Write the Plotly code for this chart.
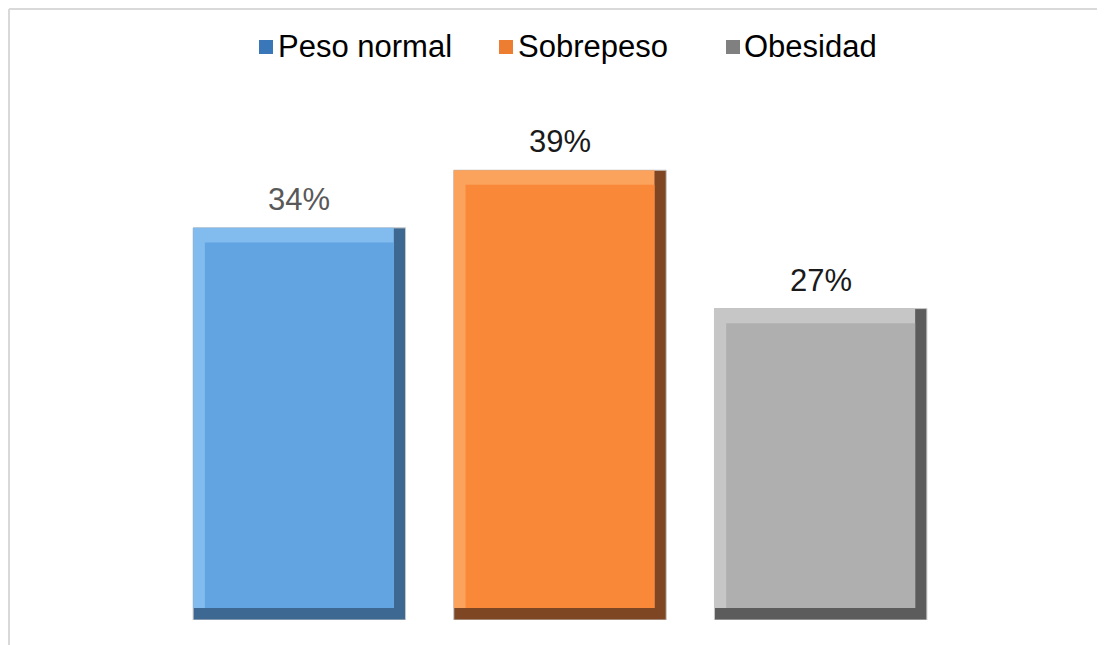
import plotly.graph_objects as go

categories = ["Peso normal", "Sobrepeso", "Obesidad"]
values = [0.34, 0.39, 0.27]
label_colors = ["#595959", "#1a1a1a", "#1a1a1a"]

face_colors = ["#62a4e1", "#f98839", "#afafaf"]
light_colors = ["#82bbee", "#fba25c", "#c6c6c6"]
dark_colors = ["#3d6891", "#7e4622", "#5c5c5c"]
legend_colors = ["#3a77b8", "#ed7d31", "#808080"]

BAR_W = 0.815      # bar width in category units
BEV_X = 0.045      # bevel width, category units
BEV_Y = 0.0105     # bevel height, value units
FONT = "Liberation Sans, Arial, sans-serif"

W, H = 1097, 637
ML, MR, MT, MB = 161, 154, 93, 25
PW, PH = W - ML - MR, H - MT - MB


def px(x):  # figure pixel -> paper x
    return (x - ML) / PW


def py(y):  # figure pixel -> paper y
    return (H - MB - y) / PH


fig = go.Figure()

for i, (cat, val) in enumerate(zip(categories, values)):
    # dark shell (right and bottom edges)
    fig.add_trace(go.Bar(
        x=[cat], y=[val], width=[BAR_W], offset=[-BAR_W / 2],
        marker=dict(color=dark_colors[i], line=dict(color="#c8c8c8", width=1)),
        showlegend=False, hoverinfo="skip",
    ))
    # light edge (top and left)
    fig.add_trace(go.Bar(
        x=[cat], y=[val - BEV_Y], base=[BEV_Y],
        width=[BAR_W - BEV_X], offset=[-BAR_W / 2],
        marker=dict(color=light_colors[i], line=dict(width=0)),
        showlegend=False, hoverinfo="skip",
    ))
    # face
    fig.add_trace(go.Bar(
        x=[cat], y=[val - 2.2 * BEV_Y], base=[BEV_Y],
        width=[BAR_W - 2 * BEV_X], offset=[-BAR_W / 2 + BEV_X],
        marker=dict(color=face_colors[i], line=dict(width=0)),
        showlegend=False, hoverinfo="skip",
    ))

for cat, val, col in zip(categories, values, label_colors):
    fig.add_annotation(
        x=cat, y=val, text=f"{val:.0%}", showarrow=False,
        yanchor="bottom", yshift=9,
        font=dict(family=FONT, size=31, color=col),
    )

# legend drawn by hand (square + label), Excel-like spacing
legend_sym_x = [251, 491, 718]
legend_txt_x = [268, 508, 734]
for sx, tx, cat, col in zip(legend_sym_x, legend_txt_x, categories, legend_colors):
    fig.add_shape(type="rect", xref="paper", yref="paper",
                  x0=px(sx), x1=px(sx + 14), y0=py(46), y1=py(32),
                  fillcolor=col, line=dict(width=0))
    fig.add_annotation(
        xref="paper", yref="paper", x=px(tx), y=py(39),
        xanchor="left", yanchor="middle", text=cat, showarrow=False,
        font=dict(family=FONT, size=31, color="#000000"),
    )

# frame of the chart area (only top and left visible)
fig.add_shape(type="line", xref="paper", yref="paper",
              x0=px(1), x1=px(W + 10), y0=py(1), y1=py(1),
              line=dict(color="#d9d9d9", width=2))
fig.add_shape(type="line", xref="paper", yref="paper",
              x0=px(1), x1=px(1), y0=py(1), y1=py(H + 10),
              line=dict(color="#d9d9d9", width=2))

fig.update_layout(
    width=W, height=H,
    margin=dict(l=ML, r=MR, t=MT, b=MB),
    barmode="overlay",
    paper_bgcolor="white", plot_bgcolor="white",
    font=dict(family=FONT, color="#000000"),
    showlegend=False,
    xaxis=dict(visible=False, range=[-0.5, 2.5]),
    yaxis=dict(visible=False, range=[0, 0.45]),
)

fig.write_html("out.html")
